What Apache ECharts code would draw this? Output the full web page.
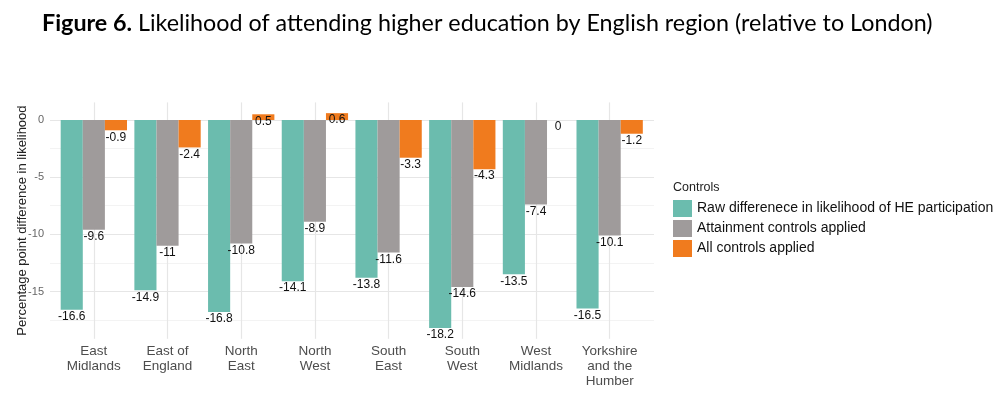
<!DOCTYPE html>
<html>
<head>
<meta charset="utf-8">
<script src="https://cdn.jsdelivr.net/npm/echarts@6/dist/echarts.min.js"></script>
<style>html,body{margin:0;padding:0;background:#fff;}#c{width:1000px;height:394px;}</style>
</head>
<body>
<div id="c"></div>
<script>
const categories = ['East\nMidlands','East of\nEngland','North\nEast','North\nWest','South\nEast','South\nWest','West\nMidlands','Yorkshire\nand the\nHumber'];
const seriesNames = ['Raw differenece in likelihood of HE participation','Attainment controls applied','All controls applied'];
const rawDiff = [-16.6,-14.9,-16.8,-14.1,-13.8,-18.2,-13.5,-16.5];
const attainment = [-9.6,-11,-10.8,-8.9,-11.6,-14.6,-7.4,-10.1];
const allControls = [-0.9,-2.4,0.5,0.6,-3.3,-4.3,0,-1.2];
const majorTicks = [0,-5,-10,-15];
const minorTicks = [-2.5,-7.5,-12.5,-17.5];
const colors = ['#6bbcae','#9f9b9b','#f07b1e'];

const allVals = rawDiff.concat(attainment, allControls);
const dMin = Math.min.apply(null, allVals), dMax = Math.max.apply(null, allVals);
const span = dMax - dMin;
const yMin = dMin - 0.05*span, yMax = dMax + 0.05*span;

const FONT = 'Liberation Sans, Arial, sans-serif';

function items(arr){
  return arr.map(v => ({
    value: v,
    label: { position: v > 0 ? 'insideTop' : 'bottom' }
  }));
}
function barSeries(name, arr, color){
  return {
    name: name, type: 'bar', data: items(arr), z: 5,
    xAxisIndex: 0, yAxisIndex: 0,
    barGap: '0%', barCategoryGap: '10%',
    itemStyle: { color: color },
    label: { show: true, distance: 1, fontSize: 12, color: '#111', fontFamily: FONT, formatter: p => String(p.value) }
  };
}

const chart = echarts.init(document.getElementById('c'), null, {renderer: 'canvas'});
chart.setOption({
  animation: false,
  backgroundColor: '#fff',
  title: [{
    left: 42, top: 12, padding: 0,
    text: '{b|Figure 6.} Likelihood of attending higher education by English region (relative to London)',
    textStyle: { rich: {
      b: { fontFamily: 'Lato', fontWeight: 'bold', fontSize: 23.3, color: '#000' }
    }, fontFamily: 'Lato', fontSize: 23.3, color: '#000', fontWeight: 'normal' }
  },{
    left: 673, top: 181, padding: 0, text: 'Controls',
    textStyle: { fontFamily: FONT, fontSize: 12.5, fontWeight: 'normal', color: '#222' }
  }],
  legend: {
    data: seriesNames, orient: 'vertical', left: 673, top: 200, padding: 0,
    itemWidth: 19, itemHeight: 17, itemGap: 3, icon: 'rect',
    textStyle: { fontFamily: FONT, fontSize: 14, color: '#111', padding: [0,0,0,0] },
    itemStyle: { borderWidth: 0 }
  },
  grid: [
    { left: 57, top: 102.4, width: 589.5, height: 236.4, outerBoundsMode: 'none', containLabel: false },
    { left: 50, top: 102.4, width: 604, height: 236.4, outerBoundsMode: 'none', containLabel: false }
  ],
  xAxis: [{
    type: 'category', data: categories, gridIndex: 0,
    axisLine: {show: false}, axisTick: {show: false}, splitLine: {show: false},
    axisLabel: { margin: 5, fontFamily: FONT, fontSize: 13.5, color: '#4d4d4d', lineHeight: 15, interval: 0 }
  },{
    type: 'value', gridIndex: 1, min: 0, max: 1, show: false
  }],
  yAxis: [{
    type: 'value', gridIndex: 0, min: yMin, max: yMax,
    name: 'Percentage point difference in likelihood',
    nameLocation: 'middle', nameRotate: 90, nameGap: 28, nameMoveOverlap: false,
    nameTextStyle: { fontFamily: FONT, fontSize: 13, color: '#222' },
    axisLine: {show: false}, axisTick: {show: false}, splitLine: {show: false},
    axisLabel: { customValues: majorTicks, margin: 13, fontFamily: FONT, fontSize: 11, color: '#666', formatter: v => String(v) }
  },{
    type: 'value', gridIndex: 1, min: yMin, max: yMax, show: false
  }],
  series: [
    {
      type: 'line', xAxisIndex: 1, yAxisIndex: 1, data: [], z: 1, silent: true,
      markLine: {
        z: 1, silent: true, symbol: ['none','none'], label: {show: false},
        data: minorTicks.map(v => ({ yAxis: v, lineStyle: { color: '#f3f3f3', width: 1, type: 'solid' } }))
          .concat(majorTicks.map(v => ({ yAxis: v, lineStyle: { color: '#e6e6e6', width: 1.2, type: 'solid' } })))
      }
    },
    {
      type: 'line', xAxisIndex: 0, yAxisIndex: 0, data: [], z: 1, silent: true,
      markLine: {
        z: 1, silent: true, symbol: ['none','none'], label: {show: false},
        data: categories.map((c, i) => ({ xAxis: i, lineStyle: { color: '#e6e6e6', width: 1.2, type: 'solid' } }))
      }
    },
    barSeries(seriesNames[0], rawDiff, colors[0]),
    barSeries(seriesNames[1], attainment, colors[1]),
    barSeries(seriesNames[2], allControls, colors[2])
  ]
});
</script>
</body>
</html>
